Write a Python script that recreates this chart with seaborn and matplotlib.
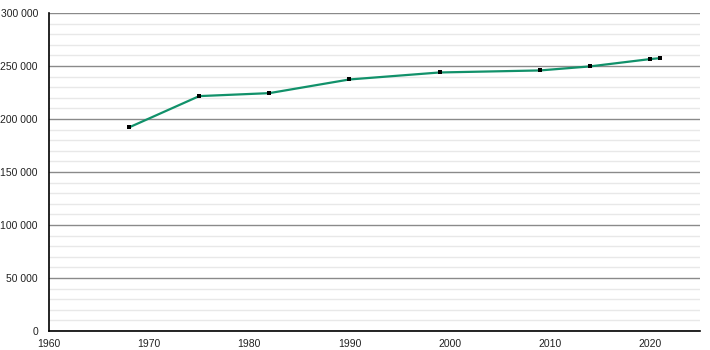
import matplotlib
matplotlib.use("Agg")
import matplotlib.pyplot as plt
import seaborn as sns
import pandas as pd
from matplotlib.ticker import MultipleLocator, FuncFormatter

years = [1968, 1975, 1982, 1990, 1999, 2009, 2014, 2020, 2021]
population = [192100, 221600, 224400, 237300, 243900, 245800, 249600, 256500, 257400]

df = pd.DataFrame({"year": years, "population": population})

sns.set_style("white")
plt.rcParams["font.family"] = ["Liberation Sans", "DejaVu Sans"]

fig = plt.figure(figsize=(7.1, 3.5), dpi=100)
ax = fig.add_axes([49 / 710, 1 - 331 / 350, (700 - 49) / 710, (331 - 13) / 350])

sns.lineplot(data=df, x="year", y="population", ax=ax, color="#11916a",
             linewidth=1.6, zorder=3)
ax.scatter(df["year"], df["population"], marker="s", s=11, color="black",
           zorder=4, linewidths=0)

ax.set_xlim(1960, 2025)
ax.set_ylim(0, 300000)
ax.xaxis.set_major_locator(MultipleLocator(10))
ax.yaxis.set_major_locator(MultipleLocator(50000))
ax.yaxis.set_minor_locator(MultipleLocator(10000))
ax.yaxis.set_major_formatter(FuncFormatter(lambda v, p: f"{int(v):,}".replace(",", " ")))

ax.grid(axis="y", which="major", color="#8a8a8a", linewidth=1.0, zorder=0)
ax.grid(axis="y", which="minor", color="#e8e8e8", linewidth=1.0, zorder=0)
ax.grid(axis="x", visible=False)
ax.set_axisbelow(True)

for s in ["top", "right"]:
    ax.spines[s].set_visible(False)
for s in ["left", "bottom"]:
    ax.spines[s].set_color("black")
    ax.spines[s].set_linewidth(1.2)

ax.tick_params(axis="both", which="major", direction="out", length=5, width=1,
               color="black", labelsize=7.5, labelcolor="#222222")
ax.tick_params(axis="y", which="major", pad=3)
ax.tick_params(axis="x", which="major", pad=0.5)
ax.tick_params(axis="y", which="minor", direction="out", length=3, width=1, color="black")
ax.set_xlabel("")
ax.set_ylabel("")

fig.savefig("out.png", dpi=100)
